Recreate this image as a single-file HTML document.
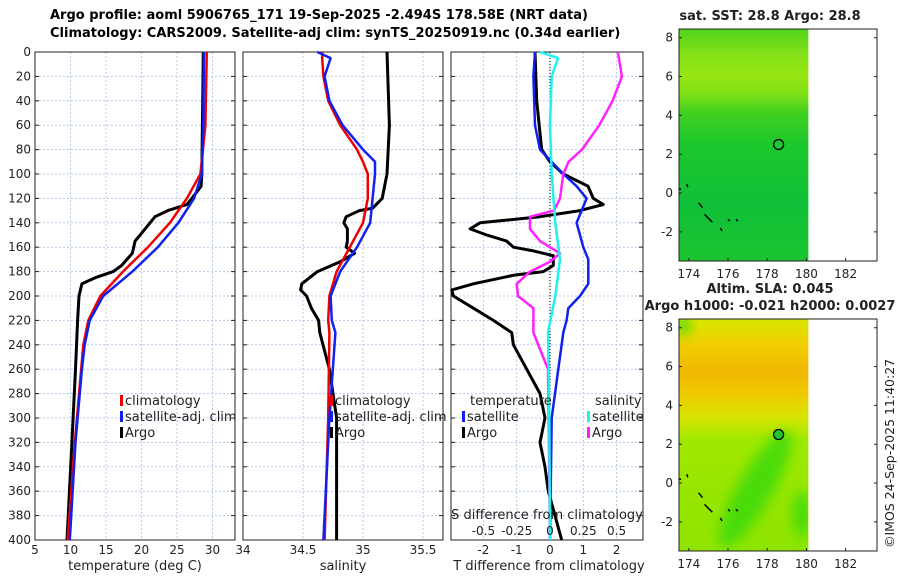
<!DOCTYPE html>
<html><head><meta charset="utf-8"><style>
body{margin:0;background:#fff;}
svg text{font-family:"DejaVu Sans","Liberation Sans",sans-serif;}
</style></head><body>
<svg id="fig" width="900" height="580" xmlns="http://www.w3.org/2000/svg">
<defs>
<linearGradient id="sstg" x1="0" y1="0" x2="0" y2="1">
<stop offset="0" stop-color="#50d41c"/><stop offset="0.1" stop-color="#80e018"/><stop offset="0.2" stop-color="#98e614"/><stop offset="0.28" stop-color="#80e018"/><stop offset="0.36" stop-color="#40d020"/><stop offset="0.5" stop-color="#1cc82c"/><stop offset="0.75" stop-color="#10c038"/><stop offset="1" stop-color="#1cc430"/>
</linearGradient>
<linearGradient id="slag" x1="0" y1="0" x2="0" y2="1">
<stop offset="0" stop-color="#d8e800"/><stop offset="0.1" stop-color="#f0d000"/><stop offset="0.22" stop-color="#f0b800"/><stop offset="0.32" stop-color="#f0c800"/><stop offset="0.42" stop-color="#d8e400"/><stop offset="0.52" stop-color="#a0e800"/><stop offset="1" stop-color="#8ee400"/>
</linearGradient>
<filter id="blur" x="-50%" y="-50%" width="200%" height="200%"><feGaussianBlur stdDeviation="6"/></filter>
<clipPath id="m2clip"><rect x="679" y="319" width="129" height="232"/></clipPath>
</defs>
<text x="50" y="19" font-size="13" font-weight="bold">Argo profile: aoml 5906765_171 19-Sep-2025 -2.494S 178.58E (NRT data)</text>
<text x="50" y="37" font-size="13" font-weight="bold">Climatology: CARS2009. Satellite-adj clim: synTS_20250919.nc (0.34d earlier)</text>
<g id="p1"></g>
<g id="p2"></g>
<g id="p3"></g>
<g id="m1"></g>
<g id="m2"></g>
<text transform="translate(894,548) rotate(-90)" font-size="12.5" fill="#222">©IMOS 24-Sep-2025 11:40:27</text>
</svg>
<script>
// ---- data ----
const depthTicks=[0,20,40,60,80,100,120,140,160,180,200,220,240,260,280,300,320,340,360,380,400];
const tTicks=[5,10,15,20,25,30];
const sTicks=[34,34.5,35,35.5];
const dTicks=[-2,-1,0,1,2];
const dsTicks=[-0.5,-0.25,0,0.25,0.5];
const dsTickLabels=["-0.5","-0.25","0","0.25","0.5"];
const climDepth=[0,60,100,120,140,160,180,200,220,240,260,320,400];
const climT=[29.2,29.0,28.3,26.4,24.0,20.9,17.4,14.2,12.5,11.8,11.5,10.6,9.6];
const satT=[28.8,28.7,28.5,27.4,25.2,22.3,18.7,14.6,12.7,12.0,11.6,10.7,9.9];
const argoDepth=[0,100,110,120,125,130,135,145,155,165,175,180,185,190,200,220,260,320,400];
const argoT=[28.7,28.5,28.4,27.1,26.4,23.7,21.9,20.5,19.1,18.7,17.2,16.0,13.5,11.6,11.2,11.0,10.7,10.2,9.5];
const sDepth=[0,5,20,40,60,80,90,100,120,140,160,180,200,220,230,300,400];
const climS=[34.66,34.66,34.67,34.71,34.81,34.95,35.0,35.04,35.04,35.0,34.89,34.78,34.72,34.71,34.72,34.71,34.68];
const satS=[34.62,34.73,34.68,34.72,34.83,35.0,35.1,35.1,35.08,35.06,34.95,34.81,34.73,34.74,34.77,34.72,34.67];
const argoSDepth=[0,60,100,110,120,128,130,135,140,145,155,160,165,172,180,190,195,200,210,220,230,260,300,400];
const argoS=[35.2,35.22,35.2,35.18,35.16,35.08,34.97,34.86,34.84,34.87,34.87,34.86,34.93,34.81,34.62,34.49,34.48,34.53,34.57,34.63,34.64,34.72,34.78,34.78];
const dDepth=[0,40,80,90,100,110,120,125,130,135,140,145,150,155,160,163,167,175,180,183,190,195,200,210,220,230,240,260,280,300,320,340,360,380,400];
const argoDT=[-0.45,-0.4,-0.25,0,0.4,1.14,1.3,1.6,0.9,-0.3,-2.1,-2.4,-1.9,-1.3,-1.1,-0.5,0.1,0.1,-0.2,-1.1,-2.3,-2.95,-2.9,-2.3,-1.7,-1.15,-1.1,-0.7,-0.3,-0.15,-0.3,-0.15,-0.05,0.15,0.35];
const satDDepth=[0,20,60,80,100,110,120,130,140,150,160,170,190,200,210,220,230,260,300,400];
const satDT=[-0.45,-0.5,-0.45,-0.3,0.4,0.8,1.1,0.95,0.8,0.9,1.0,1.15,1.15,0.9,0.55,0.5,0.4,0.25,0.05,0.0];
const dsDepth=[0,5,20,60,100,140,170,200,230,300,400];
const satDS=[-0.075,0.06,0.013,0.0,0.013,0.04,0.075,0.04,-0.015,-0.005,0.0];
const argoDSDepth=[0,20,40,60,80,90,100,120,130,135,145,155,165,172,180,190,200,210,230,260,300,400];
const argoDS=[0.51,0.54,0.47,0.37,0.24,0.14,0.1,0.075,0.03,-0.15,-0.15,-0.075,0.075,0.0,-0.15,-0.25,-0.24,-0.125,-0.125,-0.015,-0.01,0.0];
const lonTicks=[174,176,178,180,182];
const latTicks=[-2,0,2,4,6,8];
const argoLon=[178.58];
const argoLat=[2.5];
// ---- helpers ----
const NS="http://www.w3.org/2000/svg";
function mk(p,tag,at){const e=document.createElementNS(NS,tag);for(const k in at)e.setAttribute(k,at[k]);p.appendChild(e);return e;}
const Y0=52,Y1=540;
const yD=d=>Y0+(d/400)*(Y1-Y0);
function lin(d0,d1,r0,r1){return v=>r0+(v-d0)/(d1-d0)*(r1-r0);}
function panel(g,x0,x1,xs,ticks,labels,showY){
  ticks.forEach(t=>{const x=xs(t);if(x>x0+1&&x<x1-1){const l=mk(g,'line',{x1:x,x2:x,y1:Y0,y2:Y1,stroke:'#b8c8e8','stroke-dasharray':'2,2','stroke-width':1});
  }});
  depthTicks.forEach(d=>{const l=mk(g,'line',{x1:x0,x2:x1,y1:yD(d),y2:yD(d),stroke:'#b8c8e8','stroke-dasharray':'2,2','stroke-width':1});
  
  mk(g,'line',{x1:x0,x2:x0+4,y1:yD(d),y2:yD(d),stroke:'#222'});mk(g,'line',{x1:x1-4,x2:x1,y1:yD(d),y2:yD(d),stroke:'#222'});
  if(showY){const t=mk(g,'text',{x:x0-4,y:yD(d)+4,'text-anchor':'end','font-size':12,fill:'#222'});t.textContent=d;
  }});
  const r=mk(g,'rect',{x:x0,y:Y0,width:x1-x0,height:Y1-Y0,fill:'none',stroke:'#222','stroke-width':1});
  
  if(labels)ticks.forEach((t,i)=>{const x=xs(t);const tx=mk(g,'text',{x:x,y:Y1+14,'text-anchor':'middle','font-size':12,fill:'#222'});tx.textContent=labels[i];
  });
}
function line(g,xs,vals,deps,col,w,name){
  const pts=vals.map((v,i)=>xs(v).toFixed(1)+','+yD(deps[i]).toFixed(1)).join(' ');
  const p=mk(g,'polyline',{points:pts,fill:'none',stroke:col,'stroke-width':w,'stroke-linejoin':'round'});
  
}
function txt(g,x,y,s,size,name,anchor,weight){const t=mk(g,'text',{x:x,y:y,'font-size':size,fill:'#222','text-anchor':anchor||'start','font-weight':weight||'normal'});t.textContent=s;
return t;}
function legItem(g,x,y,col,s){const r=mk(g,'rect',{x:x,y:y-10,width:3,height:11,fill:col});
txt(g,x+5,y,s,13,'legend-entry');}
// panel 1
const p1=document.getElementById('p1');
const xT=lin(5,10,35,70.5);
panel(p1,35,235,xT,tTicks,tTicks.map(String),true);
line(p1,xT,argoT,argoDepth,'#000',3,'argo-temperature-line');
line(p1,xT,climT,climDepth,'#f00000',2.5,'climatology-temperature-line');
line(p1,xT,satT,climDepth,'#1020f0',2.5,'satellite-temperature-line');
txt(p1,135,570,'temperature (deg C)',13,'x-axis-title','middle');
legItem(p1,120,405,'#f00000','climatology');legItem(p1,120,421,'#1020f0','satellite-adj. clim');legItem(p1,120,437,'#000','Argo');
// panel 2
const p2=document.getElementById('p2');
const xS=lin(34.5,35,303,363);
panel(p2,243,443,xS,sTicks,["34","34.5","35","35.5"],false);
line(p2,xS,argoS,argoSDepth,'#000',3,'argo-salinity-line');
line(p2,xS,climS,sDepth,'#f00000',2.5,'climatology-salinity-line');
line(p2,xS,satS,sDepth,'#1020f0',2.5,'satellite-salinity-line');
txt(p2,343,570,'salinity',13,'x-axis-title','middle');
legItem(p2,330,405,'#f00000','climatology');legItem(p2,330,421,'#1020f0','satellite-adj. clim');legItem(p2,330,437,'#000','Argo');
// panel 3
const p3=document.getElementById('p3');
const xDT=lin(0,1,550,583.3);
const xDS=v=>xDT(v*4);
panel(p3,451,643,xDT,dTicks,dTicks.map(String),false);
const zl=mk(p3,'line',{x1:550,x2:550,y1:Y0,y2:Y1,stroke:'#000','stroke-dasharray':'1,2'});
line(p3,xDT,argoDT,dDepth,'#000',3,'argo-temperature-diff-line');
line(p3,xDT,satDT,satDDepth,'#1020f0',2.5,'satellite-temperature-diff-line');
line(p3,xDS,argoDS,argoDSDepth,'#ff20ff',2.5,'argo-salinity-diff-line');
line(p3,xDS,satDS,dsDepth,'#20f0f0',2.5,'satellite-salinity-diff-line');
txt(p3,549,570,'T difference from climatology',13,'x-axis-title','middle');
txt(p3,547,519,'S difference from climatology',13,'s-axis-title','middle');
dsTicks.forEach((v,i)=>txt(p3,xDS(v),535,dsTickLabels[i],12,'s-tick-label','middle'));
txt(p3,470,405,'temperature',13,'legend-title');txt(p3,595,405,'salinity',13,'legend-title');
legItem(p3,462,421,'#1020f0','satellite');legItem(p3,462,437,'#000','Argo');
legItem(p3,587,421,'#20f0f0','satellite');legItem(p3,587,437,'#ff20ff','Argo');
// maps
function map(id,top,fill,title1,title2){
  const g=document.getElementById(id);
  const x0=679,x1=877,y0=top,y1=top+232;
  const xs=lin(173.5,183.6,x0,x1),ys=lin(8.45,-3.5,y0,y1);
  const r=mk(g,'rect',{x:x0,y:y0,width:xs(180.1)-x0,height:y1-y0,fill:fill});
  if(id==='m2'){
    const pg=mk(g,'g',{'clip-path':'url(#m2clip)'});
    [[177.4,-0.3,0.9,3.4,30],[179.8,-1.6,0.5,1.2,0],[173.7,8.1,0.4,0.5,0]].forEach(b=>{const e=mk(pg,'ellipse',{cx:xs(b[0]),cy:ys(b[1]),rx:b[2]*19.6,ry:b[3]*19.4,fill:'#30d810',opacity:0.75,filter:'url(#blur)',transform:'rotate('+b[4]+' '+xs(b[0])+' '+ys(b[1])+')'});
    });
  }
  const b=mk(g,'rect',{x:x0,y:y0,width:x1-x0,height:y1-y0,fill:'none',stroke:'#222'});
  lonTicks.forEach(t=>{mk(g,'line',{x1:xs(t),x2:xs(t),y1:y1,y2:y1-3,stroke:'#222'});txt(g,xs(t),y1+17,String(t),12,'lon-tick-label','middle');});
  latTicks.forEach(t=>{mk(g,'line',{x1:x0,x2:x0+3,y1:ys(t),y2:ys(t),stroke:'#222'});mk(g,'line',{x1:x1-3,x2:x1,y1:ys(t),y2:ys(t),stroke:'#222'});txt(g,x0-6,ys(t)+4,String(t),12,'lat-tick-label','end');});
  argoLon.forEach((lo,i)=>{const c=mk(g,'circle',{cx:xs(lo),cy:ys(argoLat[i]),r:5,fill:id==='m2'?'#20c830':'none',stroke:'#000','stroke-width':1.3});});
  [[[173.5,0.2],[173.6,0.2]],[[173.9,0.45],[173.95,0.3]],[[174.5,-0.5],[174.7,-0.75]],[[174.8,-1.1],[175.2,-1.5]],[[175.6,-1.8],[175.7,-1.95]],[[176.0,-1.35],[176.1,-1.45]],[[176.4,-1.35],[176.5,-1.45]]].forEach(s=>{
  const isl=mk(g,'polyline',{points:s.map(p=>xs(p[0]).toFixed(1)+','+ys(p[1]).toFixed(1)).join(' '),stroke:'#000',fill:'none','stroke-width':1.5});
  });
  if(title1)txt(g,770,y0-26,title1,13,'map-title','middle','bold');
  txt(g,770,y0-9,title2,13,'map-title','middle','bold');
}
map('m1',29,'url(#sstg)',null,'sat. SST: 28.8 Argo: 28.8');
map('m2',319,'url(#slag)','Altim. SLA: 0.045','Argo h1000: -0.021 h2000: 0.0027');
</script>
</body></html>
